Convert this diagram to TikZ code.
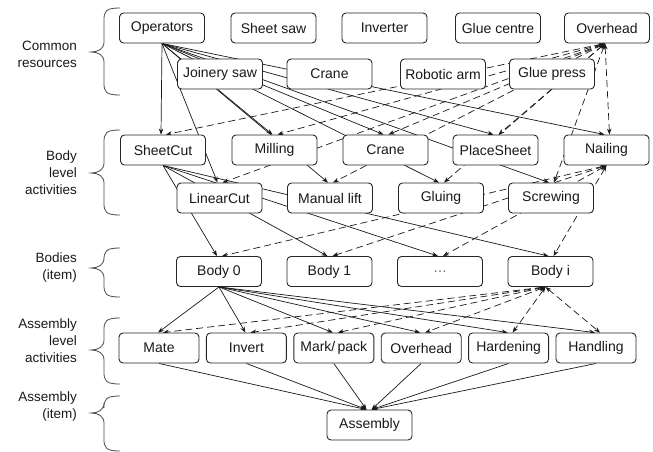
\documentclass[tikz,border=0pt]{standalone}
\usepackage{fontspec}
\setmainfont{Liberation Sans}
\usetikzlibrary{arrows.meta,backgrounds}
\begin{document}
\begin{tikzpicture}[x=1pt,y=-1pt,
  box/.style={draw=black!85, line width=0.9pt, rounded corners=4pt, fill=white,
    minimum width=85pt, minimum height=30pt, inner sep=0pt, text=black!90,
    font=\fontsize{14}{16}\selectfont},
  sbox/.style={box, minimum width=80pt},
  lab/.style={anchor=east, align=right, inner sep=0pt, text=black!90,
    font=\fontsize{13.5}{17}\selectfont},
  sol/.style={-{Stealth[length=6pt,width=4.5pt]}, line width=0.7pt, draw=black!90},
  das/.style={{Stealth[length=6pt,width=4.5pt]}-{Stealth[length=6pt,width=4.5pt]},
    dash pattern=on 7pt off 4pt, line width=0.7pt, draw=black!90},
  brc/.style={line width=0.8pt, draw=black!70}]
\useasboundingbox (0,0) rectangle (653,451);

% row 1
\node[box] (op)  at (162,28) {Operators};
\node[box] (ss)  at (273.5,28) {Sheet saw};
\node[box] (inv) at (384.5,28) {Inverter};
\node[box] (gc)  at (498,28) {Glue centre};
\node[box] (ovt) at (607,28) {Overhead};
% row 2
\node[box] (js)  at (220,74) {Joinery saw};
\node[box] (cr1) at (329.5,74) {Crane};
\node[box] (ra)  at (443,74) {Robotic arm};
\node[box] (gp)  at (552,74) {Glue press};
% row 3
\node[box] (sc)  at (163,150) {SheetCut};
\node[box] (mi)  at (274.5,150) {Milling};
\node[box] (cr2) at (385.5,150) {Crane};
\node[box] (ps)  at (495.5,150) {PlaceSheet};
\node[box] (na)  at (606.5,150) {Nailing};
% row 4
\node[box] (lc)  at (219.5,198) {LinearCut};
\node[box] (ml)  at (330,198) {Manual lift};
\node[box] (gl)  at (441,198) {Gluing};
\node[box] (sw)  at (551,198) {Screwing};
% row 5
\node[box] (b0)  at (219,271.5) {Body 0};
\node[box] (b1)  at (329.5,271.5) {Body 1};
\node[box] (bd)  at (440,271.5) {\textcolor{black!60}{…}};
\node[box] (bi)  at (550.5,271.5) {Body i};
% row 6
\node[sbox] (ma) at (159,348) {Mate};
\node[sbox] (iv) at (246.4,348) {Invert};
\node[sbox] (mp) at (333.8,348) {Mark/\,pack};
\node[sbox] (oa) at (421.2,348) {Overhead};
\node[sbox] (ha) at (508.6,348) {Hardening};
\node[sbox] (hl) at (596,348) {Handling};
% row 7
\node[box] (as) at (369.5,425) {Assembly};

% labels
\node[lab] (l1) at (77,54) {Common\\resources};
\node[lab] (l2) at (77,173) {Body\\level\\activities};
\node[lab] (l3) at (77,267) {Bodies\\(item)};
\node[lab] (l4) at (77,341) {Assembly\\level\\activities};
\node[lab] (l5) at (77,406) {Assembly\\(item)};

% braces
\foreach \ya/\ym/\yb in {8/52/95, 130/173/215, 248/268/297, 318/350/384, 396/413/451}{
  \draw[brc] (120,\ya) .. controls (106,\ya) and (104,{\ya+3}) .. (104,{\ya+12})
    -- (104,{\ym-10}) .. controls (104,{\ym-3}) and (98,\ym) .. (91,\ym)
    .. controls (98,\ym) and (104,{\ym+3}) .. (104,{\ym+10})
    -- (104,{\yb-12}) .. controls (104,{\yb-3}) and (106,\yb) .. (120,\yb);
}

\begin{pgfonlayer}{background}
  \foreach \t in {sc,mi,cr2,ps,na,lc,ml,gl,sw}{
    \draw[sol] (op.south) -- ([xshift=-2pt]\t.north);
    \draw[das] ([xshift=-2pt]ovt.south) -- ([xshift=3pt]\t.north);
  }
  \foreach \t in {b0,b1,bd,bi}{
    \draw[sol] (sc.south) -- ([xshift=-2pt]\t.north);
    \draw[das] (na.south) -- ([xshift=3pt]\t.north);
  }
  \foreach \t in {ma,iv,mp,oa,ha,hl}{
    \draw[sol] (b0.south) -- ([xshift=-1pt]\t.north);
    \draw[das] ([xshift=-5pt]bi.south) -- ([xshift=4pt]\t.north);
  }
  \foreach \t/\s in {ma/-3,iv/-3,mp/-3,oa/2,ha/2,hl/2}{
    \draw[sol] (\t.south) -- ([xshift=\s pt]as.north);
  }
\end{pgfonlayer}
\end{tikzpicture}
\end{document}
